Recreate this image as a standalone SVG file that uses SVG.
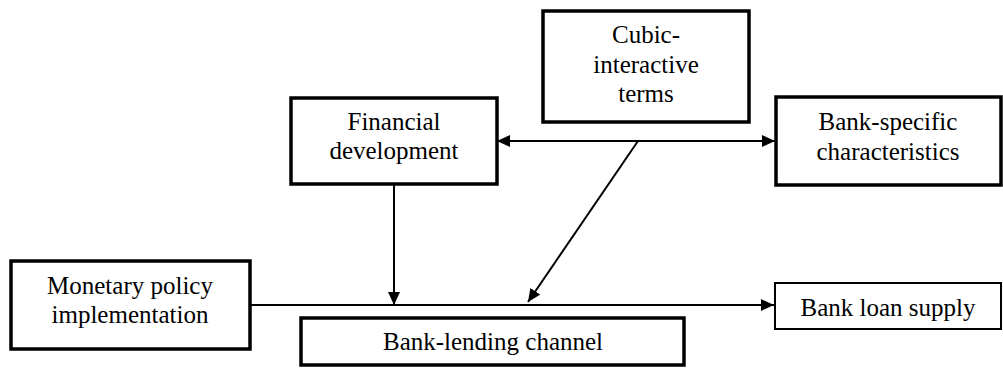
<svg xmlns="http://www.w3.org/2000/svg" width="1003" height="368" viewBox="0 0 1003 368">
<style>
.box{fill:#fff;stroke:#000;stroke-width:3.5}
.thin{stroke-width:2}
.lbl{font-family:"Liberation Serif","Times New Roman",serif;font-size:25px;fill:#000;text-anchor:middle}
.con{stroke:#000;stroke-width:2;fill:none}
</style>
<defs>
<marker id="ah" markerUnits="userSpaceOnUse" markerWidth="14" markerHeight="12" refX="13" refY="6" orient="auto-start-reverse">
<path d="M0,0 L13,6 L0,12 Z" fill="#000"/>
</marker>
</defs>
<rect width="1003" height="368" fill="#fff"/>
<g id="connectors">
<line class="con" x1="497" y1="141" x2="775" y2="141" marker-start="url(#ah)" marker-end="url(#ah)"/>
<line class="con" x1="394" y1="184" x2="394" y2="305" marker-end="url(#ah)"/>
<line class="con" x1="638" y1="141" x2="528" y2="302" marker-end="url(#ah)"/>
<line class="con" x1="250" y1="305" x2="774" y2="305" marker-end="url(#ah)"/>
</g>
<g id="cubic">
<rect class="box" x="543" y="11" width="206" height="111"/>
<text class="lbl" x="646" y="43">Cubic-</text>
<text class="lbl" x="646" y="73">interactive</text>
<text class="lbl" x="646" y="102">terms</text>
</g>
<g id="financial">
<rect class="box" x="291" y="98" width="206" height="86"/>
<text class="lbl" x="394" y="130">Financial</text>
<text class="lbl" x="394" y="159">development</text>
</g>
<g id="bankspecific">
<rect class="box" x="776" y="97" width="225" height="88"/>
<text class="lbl" x="888" y="130">Bank-specific</text>
<text class="lbl" x="888" y="160">characteristics</text>
</g>
<g id="monetary">
<rect class="box" x="11" y="261" width="239" height="88"/>
<text class="lbl" x="130" y="294">Monetary policy</text>
<text class="lbl" x="130" y="323">implementation</text>
</g>
<g id="loansupply">
<rect class="box thin" x="775" y="283" width="226" height="46"/>
<text class="lbl" x="888" y="316">Bank loan supply</text>
</g>
<g id="lending">
<rect class="box" x="301" y="318" width="383" height="47"/>
<text class="lbl" x="493" y="350">Bank-lending channel</text>
</g>
</svg>
